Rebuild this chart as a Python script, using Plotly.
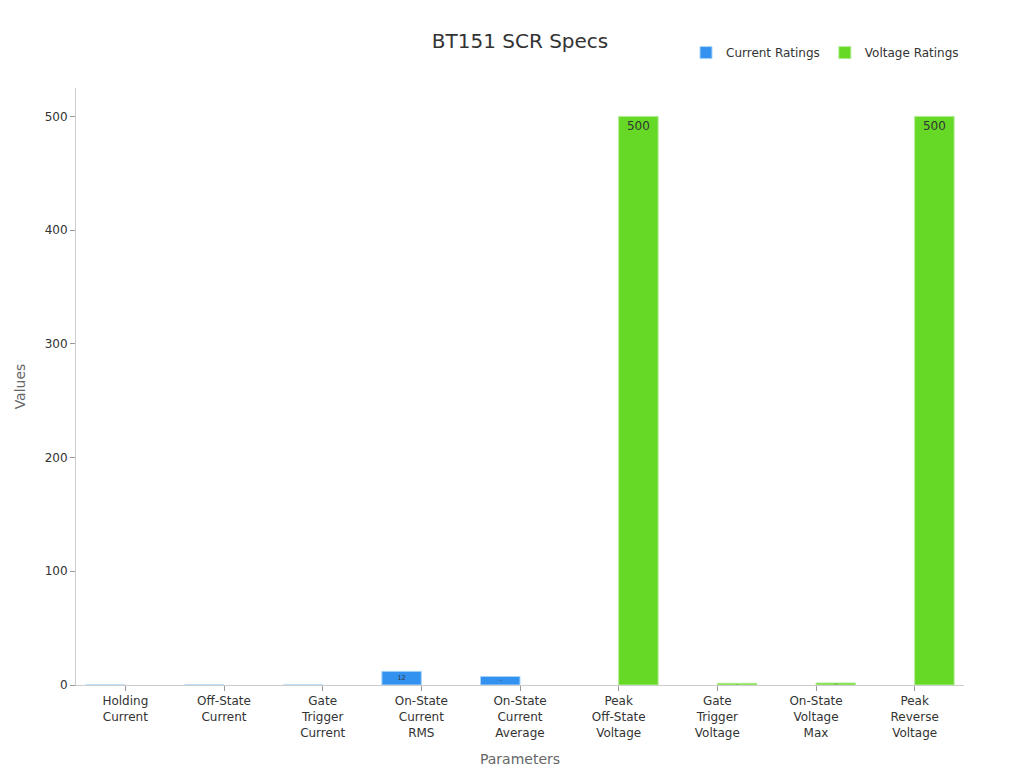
import plotly.graph_objects as go

categories = ["Holding<br>Current", "Off-State<br>Current", "Gate<br>Trigger<br>Current",
              "On-State<br>Current<br>RMS", "On-State<br>Current<br>Average",
              "Peak<br>Off-State<br>Voltage", "Gate<br>Trigger<br>Voltage",
              "On-State<br>Voltage<br>Max", "Peak<br>Reverse<br>Voltage"]
current_vals = [0, 0, 0, 12, 7.5, None, None, None, None]
voltage_vals = [None, None, None, None, None, 500, 1.5, 1.75, 500]

def labels(vals):
    return [("" if v in (None, 0) else f"{v:g}") for v in vals]

fig = go.Figure()
fig.add_bar(x=categories, y=current_vals, name="Current Ratings",
            marker=dict(color="#3391F0", line=dict(color="#A8D4FA", width=1)),
            text=labels(current_vals), textposition="inside", insidetextanchor="end",
            textangle=0, textfont=dict(color="#333", size=12))
fig.add_bar(x=categories, y=voltage_vals, name="Voltage Ratings",
            marker=dict(color="#66D926", line=dict(color="#B3EC93", width=1)),
            text=labels(voltage_vals), textposition="inside", insidetextanchor="end",
            textangle=0, textfont=dict(color="#333", size=12))
fig.update_layout(
    width=1024, height=768, barmode="group", bargap=0.2,
    template="plotly_white", plot_bgcolor="white",
    font=dict(family="DejaVu Sans", color="#333", size=12),
    title=dict(text="BT151 SCR Specs", x=0.5, y=0.957, yanchor="middle", font=dict(size=20)),
    legend=dict(orientation="h", x=1, xanchor="right", y=1.035, yanchor="bottom"),
    margin=dict(l=61, r=68, t=80, b=91, pad=0),
    xaxis=dict(title=dict(text="Parameters", font=dict(color="#666", size=14)),
               showline=True, linecolor="#ccc", ticks="outside", tickcolor="#999",
               showgrid=False, tickangle=0),
    yaxis=dict(title=dict(text="Values", font=dict(color="#666", size=14)),
               showline=True, linecolor="#ccc", ticks="outside", tickcolor="#999",
               showgrid=False, zeroline=False, range=[0, 525]),
)
fig.write_html("out.html")
